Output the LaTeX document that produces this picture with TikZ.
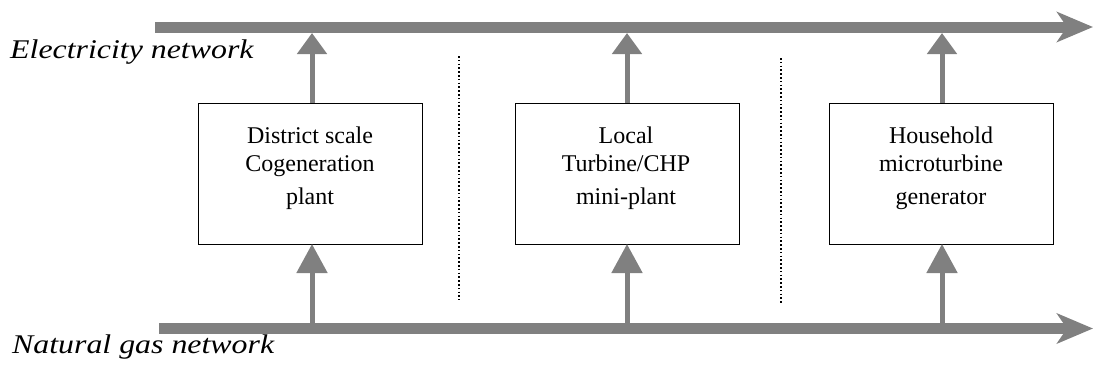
\documentclass[tikz,border=0pt]{standalone}
\usepackage{fontspec}
\setmainfont{Liberation Serif}
\newfontfamily\labfont[FakeStretch=1.18]{Liberation Serif}
\usetikzlibrary{arrows.meta}
\definecolor{flowgrey}{HTML}{808080}
\begin{document}
\begin{tikzpicture}[x=1pt,y=-1pt,
  bus/.style={draw=flowgrey,line width=11pt,-{Stealth[length=36pt,width=30pt,inset=10pt,flowgrey]}},
  uparrow/.style={draw=flowgrey,line width=5pt,-{Triangle[length=21pt,width=29pt,flowgrey]}},
  inarrow/.style={draw=flowgrey,line width=5pt,-{Triangle[length=29pt,width=30pt,flowgrey]}},
  plantbox/.style={draw=black,line width=1.3pt,minimum width=224pt,minimum height=141pt,inner sep=0pt,anchor=north west},
  boxtext/.style={font=\fontsize{24}{28}\selectfont,anchor=base,inner sep=0pt},
  nettext/.style={font=\labfont\itshape\fontsize{27}{30}\selectfont,anchor=base west,inner sep=0pt},
  divider/.style={draw=black,line width=1.2pt,dash pattern=on 1.6pt off 2.2pt}]
\useasboundingbox (0,0) rectangle (1095,370);
% networks
\coordinate (eL) at (155,27);
\coordinate (eR) at (1093,27);
\coordinate (gL) at (159,328.5);
\coordinate (gR) at (1093,328.5);
\coordinate (etop) at (0,33);
\coordinate (gtop) at (0,323);
\draw[bus] (eL) -- (eR);
\draw[bus] (gL) -- (gR);
\node[nettext] (elab) at (10,58) {Electricity network};
\node[nettext] (glab) at (12,353) {Natural gas network};
% boxes
\node[plantbox] (b1) at (198,103) {};
\node[plantbox] (b2) at (515,103) {};
\node[plantbox] (b3) at (829,103) {};
\node[boxtext] (t1a) at (310,143) {District scale};
\node[boxtext] (t1b) at (310,171) {Cogeneration};
\node[boxtext] (t1c) at (310,204) {plant};
\node[boxtext] (t2a) at (626,143) {Local};
\node[boxtext] (t2b) at (626,171) {Turbine/CHP};
\node[boxtext] (t2c) at (626,204) {mini-plant};
\node[boxtext] (t3a) at (941,143) {Household};
\node[boxtext] (t3b) at (941,171) {microturbine};
\node[boxtext] (t3c) at (941,204) {generator};
% arrows out
\coordinate (o1) at (312,103); \coordinate (o2) at (627,103); \coordinate (o3) at (942,103);
\coordinate (i1) at (312,244); \coordinate (i2) at (627,244); \coordinate (i3) at (942,244);
\foreach \k in {1,2,3}{
  \draw[uparrow] (o\k) -- (o\k |- etop);
  \draw[inarrow] (o\k |- gtop) -- (i\k);
}
% dividers
\coordinate (d1t) at (459,56); \coordinate (d1b) at (459,300);
\coordinate (d2t) at (781,58); \coordinate (d2b) at (781,303);
\draw[divider] (d1t) -- (d1b);
\draw[divider] (d2t) -- (d2b);
\end{tikzpicture}
\end{document}
